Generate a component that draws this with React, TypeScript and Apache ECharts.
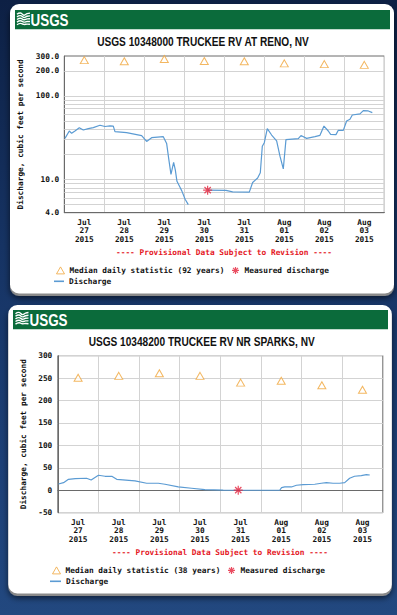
import React, { useEffect, useRef } from 'react';
import * as echarts from 'echarts';

// ---------- data ----------
// x values are hours since 2015-07-27 00:00
const dayMonths = ['Jul', 'Jul', 'Jul', 'Jul', 'Jul', 'Aug', 'Aug', 'Aug'];
const dayNumbers = ['27', '28', '29', '30', '31', '01', '02', '03'];
const dayYears = ['2015', '2015', '2015', '2015', '2015', '2015', '2015', '2015'];
const labelHours = [12, 36, 60, 84, 108, 132, 156, 180];

const renoTitle = 'USGS 10348000 TRUCKEE RV AT RENO, NV';
const renoMedianName = 'Median daily statistic (92 years)';
const renoMedian = [268, 259, 276, 261, 259, 245, 240, 235];
const renoMeasured: [number, number][] = [[86, 7.45]];
const renoDischarge: [number, number | null][] = [
  [0.4, 31], [3, 38], [4.4, 35.6], [6.4, 38], [9, 41.5], [11.4, 39], [14.4, 40.6], [17.4, 41.7],
  [21.4, 44.5], [24.4, 43], [27.4, 43.7], [29.4, 43.5], [30.4, 37.4], [37.4, 36.3], [46.4, 33.5],
  [49.4, 28.5], [52.4, 31.6], [59.4, 32.5], [61.4, 27], [62.6, 18], [64, 11.5], [65.6, 16],
  [66.6, 13], [67.6, 9.5], [69.5, 8], [70.5, 7.3], [72.5, 5.8], [74.4, 5], [80, null],
  [85.9, 7.45], [97, 7.4], [101, 7.1], [111, 7.05], [113, 9.2], [116, 10.4], [117.6, 12],
  [118.8, 25], [120, 27.5], [121.8, 40.5], [124.4, 34], [127.4, 29], [129.4, 19], [131.4, 13.4],
  [133, 30], [140.4, 30.8], [142, 33.5], [145.4, 31], [150.4, 32.5], [153.4, 33.7], [155.8, 43.5],
  [158.4, 38], [159.8, 34.7], [163, 34.4], [164.4, 38.7], [167.4, 38.7], [169.4, 50], [171.4, 52.5],
  [172.8, 59], [177.4, 60.8], [179.4, 66.5], [182.4, 66], [184.8, 63],
];
const renoTickLabels = [4, 10, 100, 200, 300];
const renoGridValues = [5, 6, 7, 8, 9, 10, 20, 30, 40, 50, 60, 70, 80, 90, 100, 200];

const sparksTitle = 'USGS 10348200 TRUCKEE RV NR SPARKS, NV';
const sparksMedianName = 'Median daily statistic (38 years)';
const sparksMedian = [251, 255, 261, 255, 240, 244, 234, 224];
const sparksMeasured: [number, number][] = [[106.6, 0.3]];
const sparksDischarge: [number, number][] = [
  [0.4, 14], [3.4, 17], [6.3, 24.5], [10.3, 26], [17, 26.8], [19.7, 23], [24, 33.5], [27.9, 31.2],
  [31.9, 31.2], [34.8, 24.5], [45.6, 20.8], [52.5, 15.6], [59.4, 15.6], [63.3, 13.4], [71.2, 7.4],
  [79, 4.5], [86.9, 1.3], [97.7, 0.5], [106.6, 0], [131.1, 0], [132.2, 5.8], [134.1, 7.4],
  [138, 7.4], [141, 11.2], [144.9, 12.6], [151.8, 13.4], [155.7, 15.6], [158.7, 17], [162.6, 15.6],
  [166.5, 15.6], [169.5, 17], [172.4, 26.8], [175.3, 31.2], [179.3, 32.6], [182.3, 34.8], [184.3, 34],
];

const measuredName = 'Measured discharge';
const dischargeName = 'Discharge';
const provisionalNote = '---- Provisional Data Subject to Revision ----';
const yName = 'Discharge, cubic feet per second';

// ---------- styles ----------
const MONO = '"DejaVu Sans Mono", "Liberation Mono", monospace';
const lbl = { fontFamily: MONO, fontWeight: 'bold' as const, fontSize: 7.8, color: '#111' };
const BLUE = '#5b9bd3';
const ORANGE = '#f0a53a';
const RED = '#e5203a';
const GRID_C = '#d3d3d3';
const BORDER_C = '#6a6a6a';
const ASTERISK = 'path://M5,0L5,10M0,5L10,5M1.5,1.5L8.5,8.5M8.5,1.5L1.5,8.5';

const triStyle = { color: '#ffffff', borderColor: ORANGE, borderWidth: 1 };
const astStyle = { color: 'transparent', borderColor: RED, borderWidth: 1.2 };

const lg = (v: number) => Math.log10(v);

function xAxisFor(gridIndex: number) {
  return {
    gridIndex,
    type: 'value',
    min: 0,
    max: 192,
    interval: 24,
    axisLine: { show: true, lineStyle: { color: BORDER_C } },
    axisTick: { show: false },
    splitLine: { show: true, lineStyle: { color: GRID_C, width: 1 } },
    axisLabel: {
      customValues: labelHours,
      formatter: (v: number) => {
        const i = labelHours.indexOf(Math.round(v));
        return i < 0 ? '' : `${dayMonths[i]}\n${dayNumbers[i]}\n${dayYears[i]}`;
      },
      margin: 5,
      lineHeight: 8.6,
      ...lbl,
    },
  };
}

function logo(x: number, y: number) {
  const lines: any[] = [];
  for (let i = 0; i < 5; i++) {
    const yl = y + 1 + i * 2.6;
    lines.push({
      type: 'polyline',
      silent: true,
      z: 5,
      shape: {
        points: [[x, yl], [x + 3.5, yl - 1.3], [x + 7, yl + 0.9 - i * 0.3], [x + 10, yl - 0.6], [x + 13, yl - 1.2 + i * 0.2]],
        smooth: 0.5,
      },
      style: { stroke: '#fff', lineWidth: 1.4, fill: 'none' },
    });
  }
  return lines;
}

function card(x: number, y: number, w: number, h: number, hx: number, hy: number, hw: number) {
  return [
    {
      type: 'rect', silent: true, z: -20,
      shape: { x: x, y: y + 2.5, width: w, height: h, r: 9 },
      style: { fill: '#8a8a8a', shadowBlur: 6, shadowColor: 'rgba(0,0,0,0.6)', shadowOffsetY: 2 },
    },
    {
      type: 'rect', silent: true, z: -19,
      shape: { x, y, width: w, height: h, r: 9 },
      style: { fill: '#ffffff' },
    },
    {
      type: 'rect', silent: true, z: 4,
      shape: { x: hx, y: hy, width: hw, height: 19.3 },
      style: { fill: '#0b6b3b' },
    },
  ];
}

function textEl(text: string, x: number, y: number, font: string, fill: string, align: string, scaleX = 1) {
  return {
    type: 'text', silent: true, z: 6, x, y, scaleX,
    style: { text, font, fill, align, verticalAlign: 'middle', textAlign: align, textVerticalAlign: 'middle' },
  };
}

function legendRow1(medianName: string, left: number, top: number) {
  return {
    data: [
      { name: medianName, icon: 'triangle', itemStyle: triStyle },
      { name: measuredName, icon: ASTERISK, itemStyle: astStyle },
    ],
    left, top, itemWidth: 8, itemHeight: 7, itemGap: 7, padding: 0,
    selectedMode: false, textStyle: { ...lbl },
  };
}

function legendRow2(left: number, top: number, width: number) {
  return {
    data: [{ name: dischargeName, icon: 'rect', itemStyle: { color: BLUE, borderWidth: 0 } }],
    left, top, itemWidth: width, itemHeight: 1.6, padding: 0,
    selectedMode: false, textStyle: { ...lbl },
  };
}

export default function App() {
  const ref = useRef<HTMLDivElement>(null);

  useEffect(() => {
    if (!ref.current) return;
    const chart = echarts.init(ref.current, undefined, { renderer: 'svg' });

    const titleFont = 'bold 12.5px "Liberation Sans", Arial, sans-serif';
    const logoFont = 'bold 17px "Liberation Sans", Arial, sans-serif';
    const noteFont = `bold 7.8px ${MONO}`;

    const option: any = {
      animation: false,
      backgroundColor: 'transparent',
      grid: [
        { left: 64.3, top: 56, width: 320, height: 156.7, show: true, borderColor: BORDER_C, borderWidth: 1, containLabel: false, outerBoundsMode: 'none' },
        { left: 57.8, top: 355.7, width: 325, height: 157, show: true, borderColor: BORDER_C, borderWidth: 1, containLabel: false, outerBoundsMode: 'none' },
      ],
      xAxis: [xAxisFor(0), xAxisFor(1)],
      yAxis: [
        {
          gridIndex: 0,
          type: 'value',
          min: lg(4),
          max: lg(300),
          axisLine: { show: true, lineStyle: { color: BORDER_C } },
          axisTick: { show: false },
          splitLine: { show: false },
          axisLabel: {
            customValues: renoTickLabels.map(lg),
            formatter: (v: number) => Math.pow(10, v).toFixed(1),
            margin: 5,
            ...lbl,
          },
          name: yName,
          nameLocation: 'middle',
          nameGap: 33,
          nameTextStyle: { ...lbl },
        },
        {
          gridIndex: 1,
          type: 'value',
          min: -50,
          max: 300,
          interval: 50,
          axisLine: { show: true, lineStyle: { color: BORDER_C } },
          axisTick: { show: false },
          splitLine: { show: true, lineStyle: { color: GRID_C, width: 1 } },
          axisLabel: { margin: 5.5, ...lbl },
          name: yName,
          nameLocation: 'middle',
          nameGap: 28,
          nameTextStyle: { ...lbl },
        },
      ],
      legend: [
        legendRow1(renoMedianName, 56, 266.3),
        legendRow2(54, 277.3, 10),
        legendRow1(sparksMedianName, 52, 566.3),
        legendRow2(50, 577.3, 11),
      ],
      series: [
        {
          type: 'line',
          name: dischargeName,
          xAxisIndex: 0,
          yAxisIndex: 0,
          data: renoDischarge.map(([h, v]) => [h, v == null ? '-' : lg(v)]),
          showSymbol: false,
          symbol: 'none',
          connectNulls: false,
          lineStyle: { color: BLUE, width: 1.2 },
          itemStyle: { color: BLUE },
          z: 3,
          markLine: {
            silent: true,
            z: 1,
            symbol: ['none', 'none'],
            label: { show: false },
            emphasis: { disabled: true },
            lineStyle: { color: GRID_C, width: 1, type: 'solid' },
            data: renoGridValues.map((v) => ({ yAxis: lg(v) })),
          },
        },
        {
          type: 'scatter',
          name: renoMedianName,
          xAxisIndex: 0,
          yAxisIndex: 0,
          data: labelHours.map((h, i) => [h, lg(renoMedian[i])]),
          symbol: 'triangle',
          symbolSize: [8, 7],
          itemStyle: triStyle,
          z: 4,
        },
        {
          type: 'scatter',
          name: measuredName,
          xAxisIndex: 0,
          yAxisIndex: 0,
          data: renoMeasured.map(([h, v]) => [h, lg(v)]),
          symbol: ASTERISK,
          symbolSize: 9,
          itemStyle: astStyle,
          z: 5,
        },
        {
          type: 'line',
          name: dischargeName,
          xAxisIndex: 1,
          yAxisIndex: 1,
          data: sparksDischarge,
          showSymbol: false,
          symbol: 'none',
          lineStyle: { color: BLUE, width: 1.2 },
          itemStyle: { color: BLUE },
          z: 3,
        },
        {
          type: 'scatter',
          name: sparksMedianName,
          xAxisIndex: 1,
          yAxisIndex: 1,
          data: labelHours.map((h, i) => [h, sparksMedian[i]]),
          symbol: 'triangle',
          symbolSize: [8, 7],
          itemStyle: triStyle,
          z: 4,
        },
        {
          type: 'scatter',
          name: measuredName,
          xAxisIndex: 1,
          yAxisIndex: 1,
          data: sparksMeasured,
          symbol: ASTERISK,
          symbolSize: 9,
          itemStyle: astStyle,
          z: 5,
        },
      ],
      graphic: [
        ...card(10, 4, 384, 289.5, 15, 10, 375),
        ...card(8.3, 305, 383.5, 288.5, 13, 310, 375),
        ...logo(17, 13.3),
        ...logo(15.5, 312.7),
        textEl('USGS', 30.5, 19.7, logoFont, '#ffffff', 'left', 0.79),
        textEl('USGS', 29.5, 319.5, logoFont, '#ffffff', 'left', 0.79),
        textEl(renoTitle, 203, 41.8, titleFont, '#111111', 'center', 0.81),
        textEl(sparksTitle, 201.7, 341.5, titleFont, '#111111', 'center', 0.81),
        textEl(provisionalNote, 224, 252.3, noteFont, '#e4161e', 'center'),
        textEl(provisionalNote, 220, 552.3, noteFont, '#e4161e', 'center'),
      ],
    };

    chart.setOption(option);
    return () => chart.dispose();
  }, []);

  return (
    <div
      style={{
        position: 'fixed',
        left: 0,
        top: 0,
        width: 397,
        height: 615,
        background: 'linear-gradient(180deg, #0d2044 0%, #163363 40%, #1d4077 75%, #22487f 100%)',
      }}
    >
      <div ref={ref} style={{ width: 397, height: 615 }} />
    </div>
  );
}
